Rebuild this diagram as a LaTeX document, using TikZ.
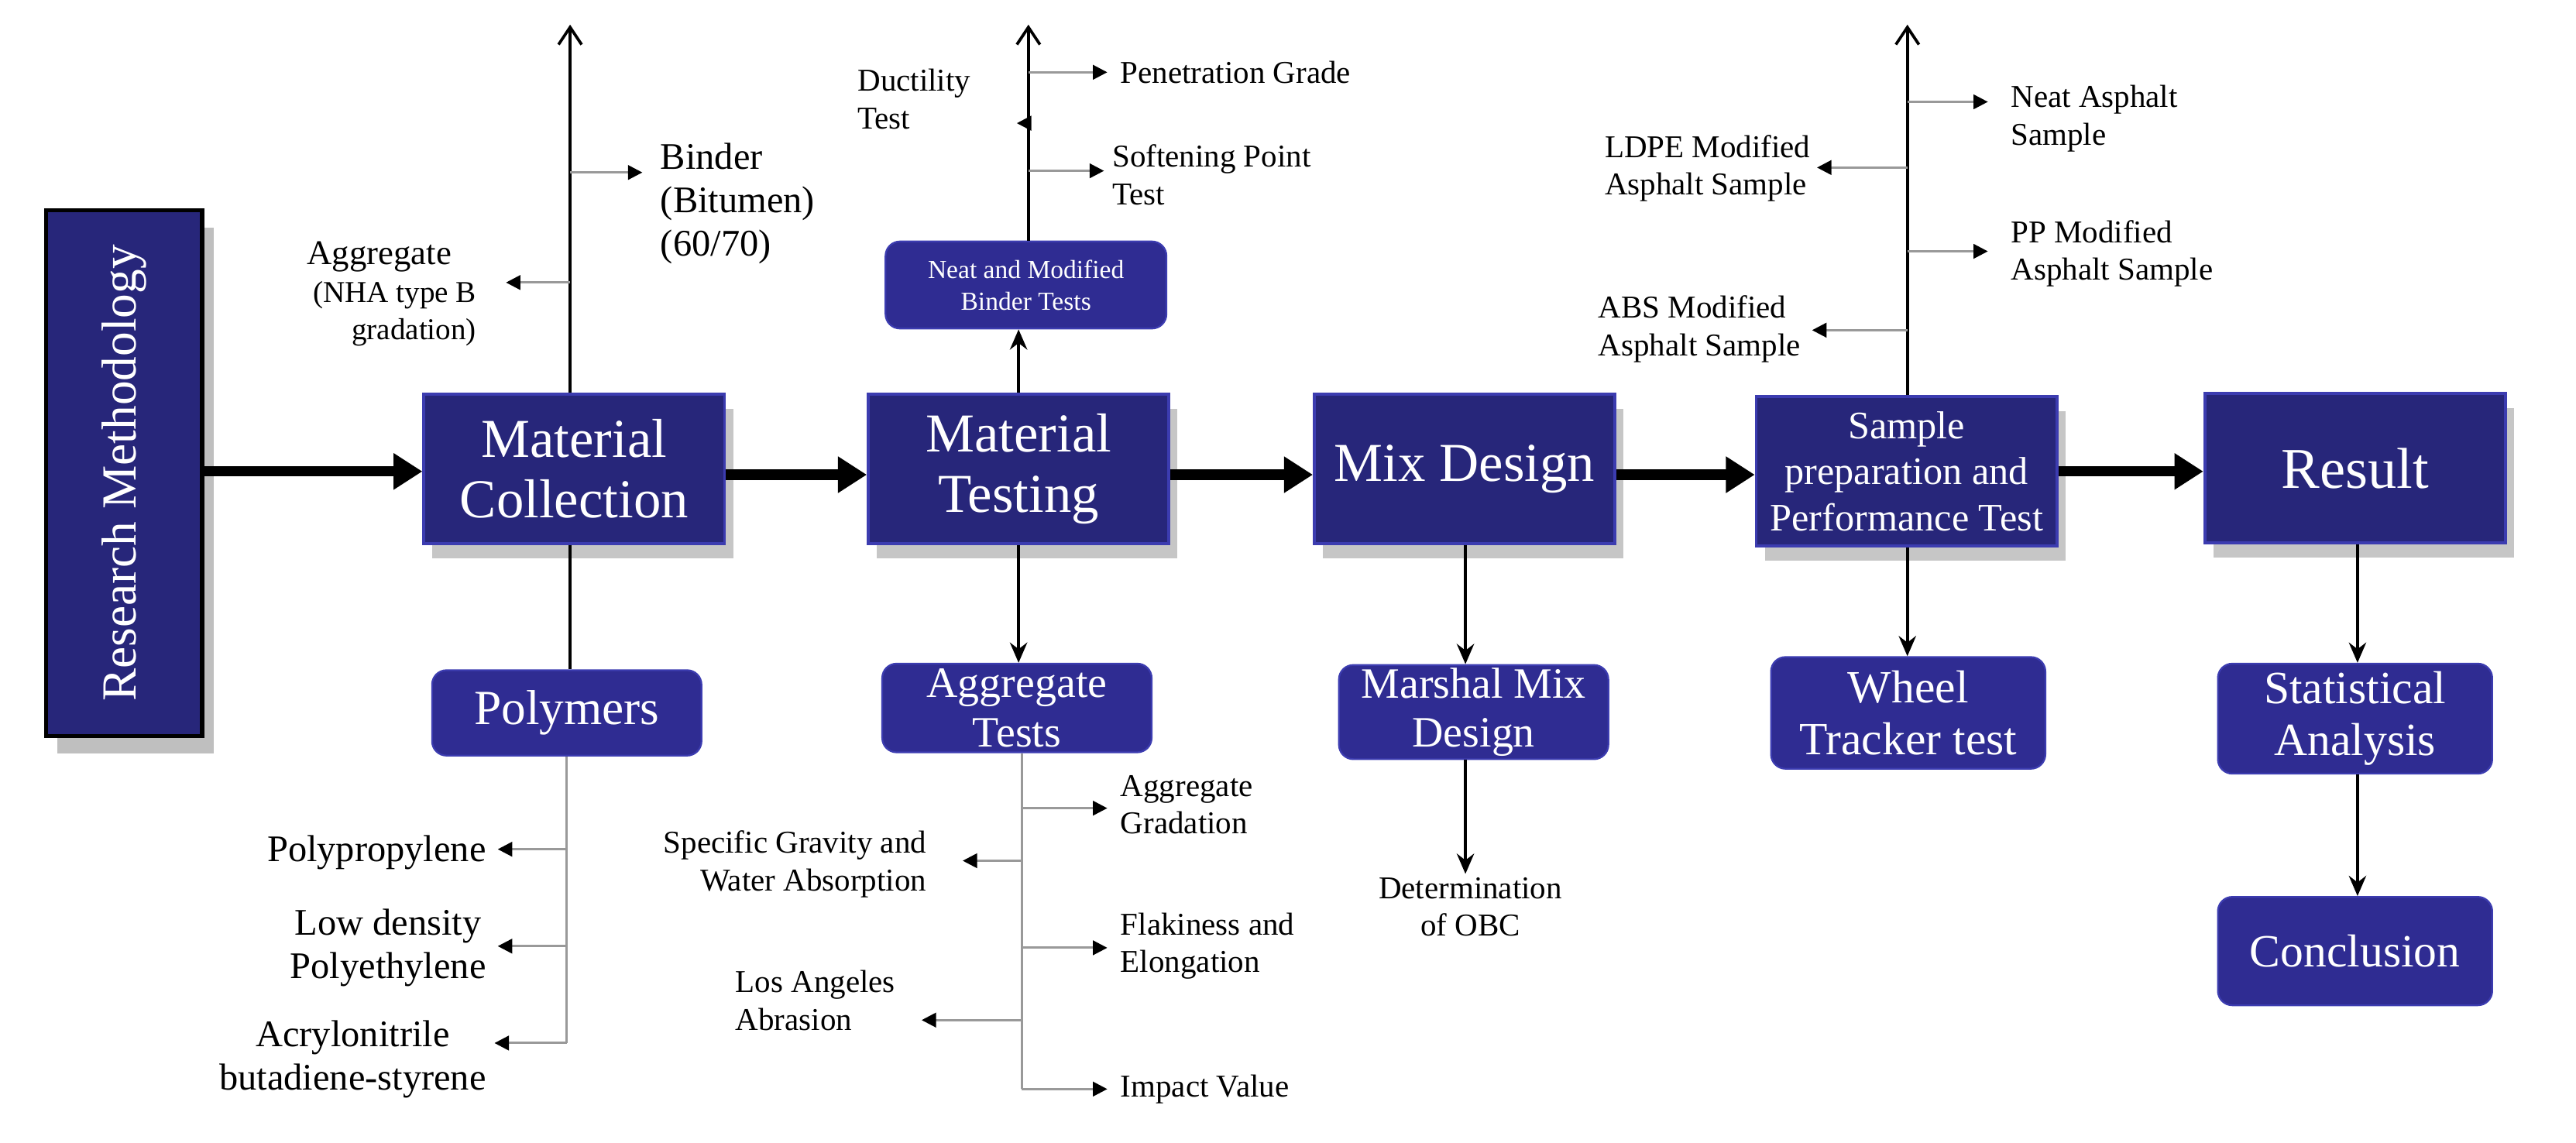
\documentclass[tikz,border=0pt]{standalone}
\usepackage{fontspec}
\setmainfont{Liberation Serif}
\usetikzlibrary{arrows.meta,shadows,calc}
\definecolor{navy}{HTML}{27267A}
\definecolor{navyb}{HTML}{3C3CB0}
\definecolor{rnavy}{HTML}{2F2C92}
\begin{document}
\begin{tikzpicture}[x=0.02cm,y=-0.02cm,
 main/.style={draw=navyb,line width=1pt,fill=navy,text=white,minimum width=183*0.02cm,minimum height=91*0.02cm,align=center,font=\fontsize{19}{21}\selectfont,inner sep=1pt,drop shadow={shadow xshift=3pt,shadow yshift=-5pt,opacity=0.45}},
 sub/.style={draw=navyb,line width=0.6pt,fill=rnavy,text=white,rounded corners=5pt,align=center,inner sep=1pt,font=\fontsize{15}{17}\selectfont},
 lbl/.style={align=left,inner sep=1pt,font=\fontsize{11}{13}\selectfont},
 big/.style={align=left,inner sep=1pt,font=\fontsize{13}{15}\selectfont},
 thick arr/.style={line width=3.6pt,-{Triangle[length=10pt,width=12pt]}},
 trunk/.style={line width=1pt},
 up/.style={line width=1pt,-{Straight Barb[length=6pt,width=8pt]}},
 dn/.style={line width=1pt,-{Stealth[length=7pt,width=6pt]}},
 br/.style={draw=gray!80,line width=0.8pt,-{Triangle[length=5pt,width=5pt,color=black]}},
 gline/.style={draw=gray!80,line width=0.8pt}]
\useasboundingbox (0,0) rectangle (1568,695.4);
% Research methodology
\node[draw=black,line width=1.5pt,fill=navy,minimum width=95*0.02cm,minimum height=320*0.02cm,drop shadow={shadow xshift=4pt,shadow yshift=-6pt,opacity=0.5}] (rm) at (75.5,288) {};
\node[rotate=90,text=white,font=\fontsize{17}{19}\selectfont] (rmt) at (rm.center) {Research Methodology};
% main boxes
\node[main] (mc) at (349.5,285.5) {Material\\Collection};
\node[main] (mt) at (620,285.5) {Material\\Testing};
\node[main] (md) at (891.5,285.5) {Mix Design};
\node[main,font=\fontsize{13.5}{16}\selectfont] (sp) at (1160.5,287) {Sample\\preparation and\\Performance Test};
\node[main,font=\fontsize{20}{22}\selectfont] (re) at (1433.5,285) {Result};
\draw[thick arr] (rm.east|-0,287) -- (mc.west|-0,287);
\draw[thick arr] (mc.east|-0,289) -- (mt.west|-0,289);
\draw[thick arr] (mt.east|-0,289) -- (md.west|-0,289);
\draw[thick arr] (md.east|-0,289) -- (sp.west|-0,289);
\draw[thick arr] (sp.east|-0,287) -- (re.west|-0,287);
% ---------- Material collection up
\coordinate (mctop) at (347,15);
\draw[up] (mc.north-|347,0) -- (mctop);
\node[big,anchor=north west] (bind) at (400,85) {Binder\\(Bitumen)\\(60/70)};
\coordinate (mcb1) at (347,105);
\draw[br] (mcb1) -- ($(mcb1-|bind.west)+(-9,0)$);
\node[lbl,anchor=north east,font=\fontsize{12}{13}\selectfont] (agg) at (292,145) {Aggregate\\\hspace*{2pt}{\fontsize{10.5}{13}\selectfont(NHA type B}\\\hfill{\fontsize{10.5}{13}\selectfont gradation)}};
\coordinate (mcb2) at (347,172);
\draw[br] (mcb2) -- ($(mcb2-|agg.east)+(16,0)$);
% polymers
\node[sub,minimum width=164*0.02cm,minimum height=52*0.02cm,font=\fontsize{17}{19}\selectfont] (poly) at (345,434) {Polymers};
\draw[trunk] (mc.south-|347,0) -- (poly.north-|347,0);
\coordinate (pend) at (345,635);
\draw[gline] (poly.south-|345,0) -- (pend);
\node[big,anchor=east] (pp) at (298,519) {Polypropylene};
\node[big,anchor=east,align=center] (ld) at (298,577) {Low density\\Polyethylene};
\node[big,anchor=east,align=center] (abs) at (298,645) {Acrylonitrile\\butadiene-styrene};
\coordinate (pb1) at (345,517);
\coordinate (pb2) at (345,576);
\draw[br] (pb1) -- ($(pb1-|pp.east)+(5,0)$);
\draw[br] (pb2) -- ($(pb2-|ld.east)+(5,0)$);
\draw[br] (pend) -- ($(pend-|abs.east)+(3,0)$);
% ---------- Material testing
\node[sub,minimum width=171*0.02cm,minimum height=53*0.02cm,font=\fontsize{9}{11}\selectfont] (nb) at (624.5,173.5) {Neat and Modified\\Binder Tests};
\draw[dn] (mt.north-|620,0) -- (nb.south-|620,0);
\coordinate (mttop) at (626,15);
\draw[up] (nb.north-|626,0) -- (mttop);
\node[lbl,anchor=west] (pen) at (680,44) {Penetration Grade};
\node[lbl,anchor=north west,align=left] (duc) at (520,40) {Ductility\\Test};
\node[lbl,anchor=north west,align=left] (sof) at (675,86) {Softening Point\\Test};
\coordinate (tb1) at (626,44);
\coordinate (tb2) at (626,75);
\coordinate (tb3) at (626,104);
\draw[br] (tb1) -- ($(tb1-|pen.west)+(-6,0)$);
\draw[br] (tb2) -- ($(tb2-|duc.east)+(26,0)$);
\draw[br] (tb3) -- ($(tb3-|sof.west)+(-3,0)$);
\node[sub,minimum width=164*0.02cm,minimum height=54*0.02cm] (at) at (619,431) {Aggregate\\Tests};
\draw[dn] (mt.south-|620,0) -- (at.north-|620,0);
\coordinate (aend) at (622,663);
\draw[gline] (at.south-|622,0) -- (aend);
\node[lbl,anchor=west] (ag) at (680,490) {Aggregate\\Gradation};
\node[lbl,anchor=east,align=right] (sg) at (566,526) {Specific Gravity and\\Water Absorption};
\node[lbl,anchor=west] (fl) at (680,576) {Flakiness and\\Elongation};
\node[lbl,anchor=east,align=left] (la) at (547,609) {Los Angeles\\Abrasion};
\node[lbl,anchor=west] (iv) at (680,663) {Impact Value};
\coordinate (ab1) at (622,492);
\coordinate (ab2) at (622,524);
\coordinate (ab3) at (622,577);
\coordinate (ab4) at (622,621);
\draw[br] (ab1) -- ($(ab1-|ag.west)+(-6,0)$);
\draw[br] (ab2) -- ($(ab2-|sg.east)+(20,0)$);
\draw[br] (ab3) -- ($(ab3-|fl.west)+(-6,0)$);
\draw[br] (ab4) -- ($(ab4-|la.east)+(14,0)$);
\draw[br] (aend) -- ($(aend-|iv.west)+(-6,0)$);
% ---------- Mix design
\node[sub,minimum width=164*0.02cm,minimum height=55*0.02cm] (mm) at (897,433.5) {Marshal Mix\\Design};
\draw[dn] (md.south-|892,0) -- (mm.north-|892,0);
\node[lbl,align=center,anchor=north] (obc) at (895,532) {Determination\\of OBC};
\draw[dn] (mm.south-|892,0) -- (obc.north-|892,0);
% ---------- Sample prep
\coordinate (sptop) at (1161,15);
\draw[up] (sp.north-|1161,0) -- (sptop);
\node[lbl,anchor=north west] (na) at (1222,50) {Neat Asphalt\\Sample};
\node[lbl,anchor=north east,align=left] (ldpe) at (1104,80) {LDPE Modified\\Asphalt Sample};
\node[lbl,anchor=north west] (ppm) at (1222,132) {PP Modified\\Asphalt Sample};
\node[lbl,anchor=north east,align=left] (absm) at (1098,178) {ABS Modified\\Asphalt Sample};
\coordinate (sb1) at (1161,62);
\coordinate (sb2) at (1161,102);
\coordinate (sb3) at (1161,153);
\coordinate (sb4) at (1161,201);
\draw[br] (sb1) -- ($(sb1-|na.west)+(-12,0)$);
\draw[br] (sb2) -- ($(sb2-|ldpe.east)+(2,0)$);
\draw[br] (sb3) -- ($(sb3-|ppm.west)+(-12,0)$);
\draw[br] (sb4) -- ($(sb4-|absm.east)+(5,0)$);
\node[sub,minimum width=167*0.02cm,minimum height=68*0.02cm,font=\fontsize{16}{18}\selectfont] (wt) at (1161.5,434) {Wheel\\Tracker test};
\draw[dn] (sp.south-|1161,0) -- (wt.north-|1161,0);
% ---------- Result
\node[sub,minimum width=167*0.02cm,minimum height=67*0.02cm,font=\fontsize{16}{18}\selectfont] (sa) at (1433.5,437.5) {Statistical\\Analysis};
\node[sub,minimum width=167*0.02cm,minimum height=66*0.02cm,font=\fontsize{16}{18}\selectfont] (co) at (1433.5,579) {Conclusion};
\draw[dn] (re.south-|1435,0) -- (sa.north-|1435,0);
\draw[dn] (sa.south-|1435,0) -- (co.north-|1435,0);
\end{tikzpicture}
\end{document}
